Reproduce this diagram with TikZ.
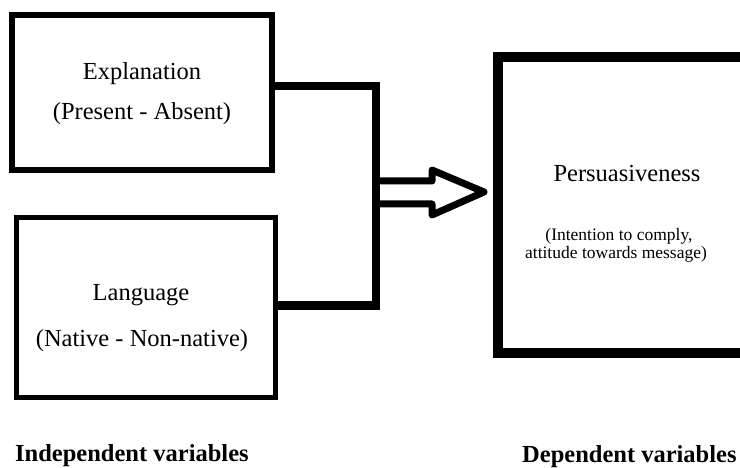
\documentclass[tikz,border=0pt]{standalone}
\usepackage{fontspec}
\setmainfont{Liberation Serif}
\begin{document}
\begin{tikzpicture}[x=1pt,y=-1pt,
  box/.style={draw, line width=5.5pt, inner sep=0pt, rectangle},
  conn/.style={line width=8pt},
  blockarrow/.style={line width=7pt, line join=round},
  lbl/.style={anchor=base, inner sep=0pt, font=\fontsize{24.5}{29}\selectfont},
  sml/.style={anchor=base, inner sep=0pt, font=\fontsize{17.5}{21}\selectfont},
  hdr/.style={anchor=base west, inner sep=0pt, font=\fontsize{24.5}{29}\selectfont\bfseries}]
\clip (0,0) rectangle (740,468);
\fill[white] (0,0) rectangle (740,468);
% boxes
\node[box, minimum width=260pt, minimum height=155pt] (expl) at (142,92.5) {};
\node[box, minimum width=259pt, minimum height=180pt] (lang) at (146,307.5) {};
\node[box, line width=10pt, minimum width=280pt, minimum height=296pt] (pers) at (638,205) {};
% texts
\node[lbl] (t1) at (142,80) {Explanation};
\node[lbl] (t2) at (142,120) {(Present - Absent)};
\node[lbl] (t3) at (141,301) {Language};
\node[lbl] (t4) at (142,346) {(Native - Non-native)};
\node[lbl] (t5) at (627,182) {Persuasiveness};
\node[sml] (t6) at (619,241) {(Intention to comply,};
\node[sml] (t7) at (616,259) {attitude towards message)};
\node[hdr] (h1) at (15,461) {Independent variables};
\node[hdr] (h2) at (522,462) {Dependent variables};
% connectors
\coordinate (j1) at (376,86.5);
\coordinate (j2) at (376,305.5);
\draw[conn] (expl.east |- j1) -- (j1) -- (j2) -- (lang.east |- j2);
% block arrow
\coordinate (tip) at (484,192);
\draw[blockarrow] (j1 |- 0,181) -- (432,181) -- (432,170) -- (tip) -- (432,215) -- (432,204) -- (j1 |- 0,204);
\end{tikzpicture}
\end{document}
